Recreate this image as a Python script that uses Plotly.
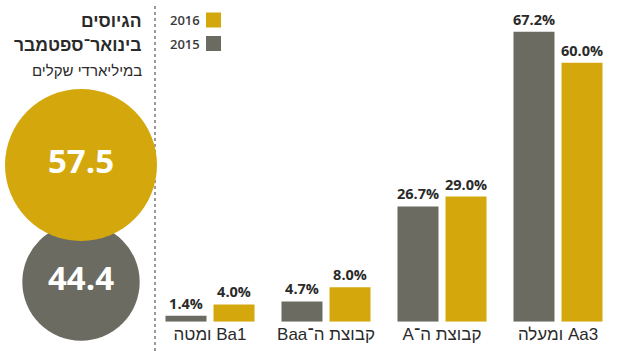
import plotly.graph_objects as go

# Bond issuance shares by rating group
categories = ["Ba1 ומטה", "קבוצת ה־Baa", "קבוצת ה־A", "Aa3 ומעלה"]
share_2015 = [1.4, 4.7, 26.7, 67.2]
share_2016 = [4.0, 8.0, 29.0, 60.0]
years = ["2016", "2015"]

# Total issuance January–September, billions of shekels
totals_labels = ["2015", "2016"]
totals_values = [44.4, 57.5]

title_lines = ["הגיוסים", "בינואר־ספטמבר", "במיליארדי שקלים"]

GOLD = "#D4A80C"
GRAY = "#6C6B61"
TEXT = "#2A2A2A"
W, H = 619, 351

RLE, PDF = "\u202b", "\u202c"  # right-to-left embedding for mixed Hebrew/Latin labels
tick_text = [RLE + c + PDF for c in categories]
xs = list(range(len(categories)))

fig = go.Figure()

bar_font = dict(family="Open Sans", size=14.5, color=TEXT, weight="bold")
fig.add_trace(go.Bar(
    x=xs, y=share_2015, name="2015", marker_color=GRAY, marker_line_width=0,
    text=[f"{v:.1f}%" for v in share_2015], textposition="outside",
    textfont=bar_font, constraintext="none", cliponaxis=False,
))
fig.add_trace(go.Bar(
    x=xs, y=share_2016, name="2016", marker_color=GOLD, marker_line_width=0,
    text=[f"{v:.1f}%" for v in share_2016], textposition="outside",
    textfont=bar_font, constraintext="none", cliponaxis=False,
))

# Totals as circles whose diameter scales with the value
px_per_unit = 152 / 57.5
circle_y = [282, 165]
circle_colors = [GRAY, GOLD]
fig.add_trace(go.Scatter(
    x=[81, 81], y=circle_y, xaxis="x2", yaxis="y2",
    mode="markers+text",
    marker=dict(size=[v * px_per_unit for v in totals_values],
                color=circle_colors, line=dict(width=0), opacity=1),
    text=[f"{v:.1f}" for v in totals_values], textposition="middle center",
    textfont=dict(family="Open Sans", size=33, color="white", weight="bold"),
    cliponaxis=False, hoverinfo="skip",
))

ax_left, ax_right = 152, 616
fig.update_layout(
    width=W, height=H,
    margin=dict(l=0, r=0, t=0, b=0),
    paper_bgcolor="white", plot_bgcolor="rgba(0,0,0,0)",
    showlegend=False,
    barmode="group", bargap=0.172, bargroupgap=0.146,
    xaxis=dict(domain=[ax_left / W, ax_right / W], range=[-0.5, 3.5],
               tickvals=xs, ticktext=tick_text, showgrid=False, zeroline=False,
               showline=False, ticks="", fixedrange=True,
               tickfont=dict(family="Liberation Sans", size=17, color=TEXT)),
    yaxis=dict(domain=[29.3 / H, 1], range=[0, 321.7 / 4.315], visible=False),
    xaxis2=dict(domain=[0, 1], range=[0, W], visible=False, anchor="y2"),
    yaxis2=dict(domain=[0, 1], range=[H, 0], visible=False, anchor="x2"),
)

# Dotted divider between totals and bars
fig.add_shape(type="line", xref="paper", yref="paper",
              x0=155 / W, x1=155 / W, y0=0, y1=1 - 4 / H,
              line=dict(color="#7A7A7A", width=1.5, dash="3px,3px"), layer="below")

# Legend: swatches with year labels to their left
legend_y = [20, 43.5]
legend_colors = [GOLD, GRAY]
for yr, yc, col in zip(years, legend_y, legend_colors):
    fig.add_shape(type="rect", xref="x2", yref="y2",
                  x0=206, x1=221, y0=yc - 7.5, y1=yc + 7.5,
                  fillcolor=col, line_width=0)
    fig.add_annotation(xref="x2", yref="y2", x=202, y=yc, text=yr,
                       xanchor="right", yanchor="middle", showarrow=False,
                       font=dict(family="Open Sans", size=13, color="#3A3A3A", weight=600))

# Heading on the left, right-aligned
title_y = [21, 45, 70]
title_sizes = [17.5, 17.5, 15]
title_weights = ["bold", "bold", "normal"]
for t, yc, s, wgt in zip(title_lines, title_y, title_sizes, title_weights):
    fig.add_annotation(xref="x2", yref="y2", x=144, y=yc, text=t,
                       xanchor="right", yanchor="middle", showarrow=False,
                       font=dict(family="Liberation Sans", size=s, color=TEXT, weight=wgt))

fig.write_html("out.html")
